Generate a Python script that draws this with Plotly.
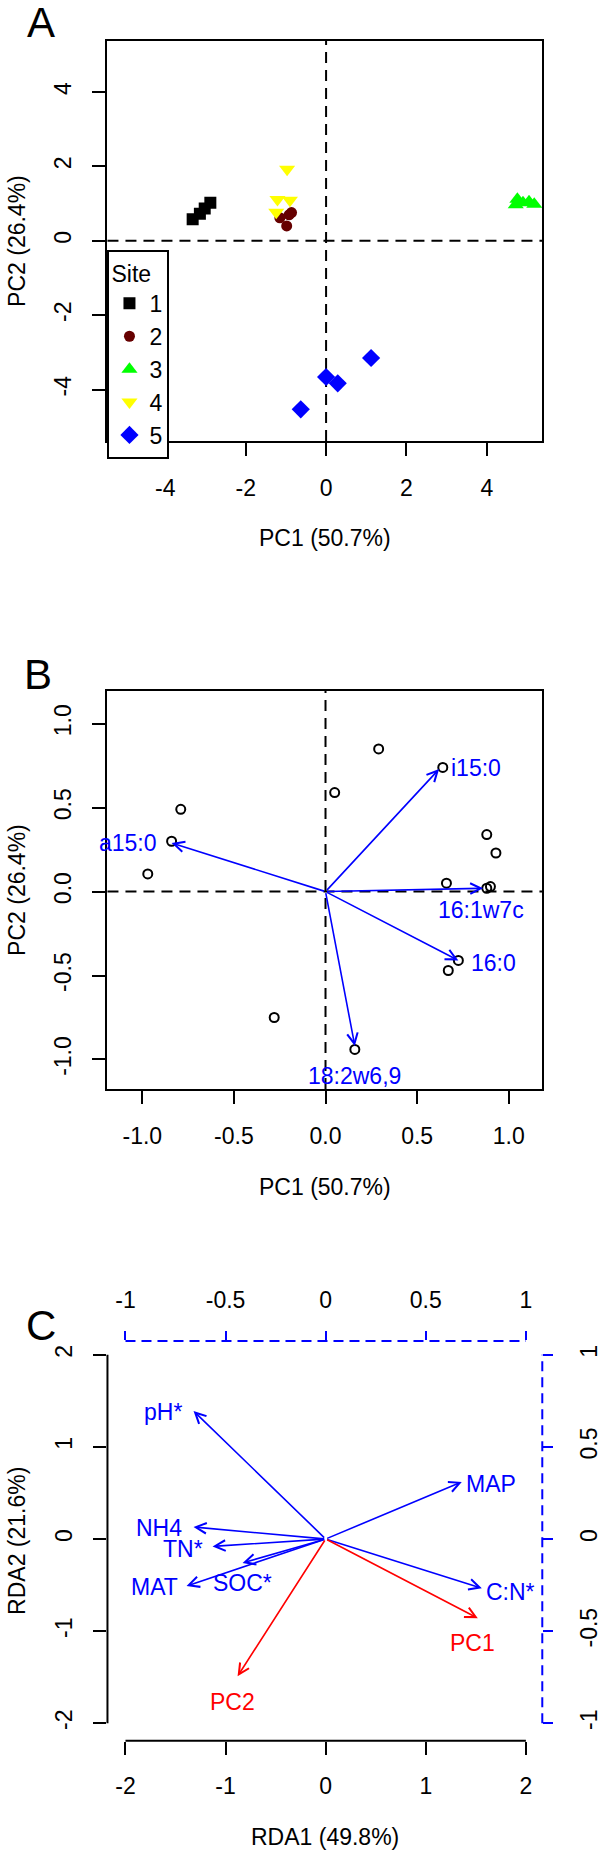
import plotly.graph_objects as go

# ---------------- Data ----------------
# Panel A: PCA scores by site
site_names = ["1", "2", "3", "4", "5"]
site_colors = ["#000000", "#660000", "#00ff00", "#ffff00", "#0000ff"]
site_symbols = ["square", "circle", "triangle-up", "triangle-down", "diamond"]
site_sizes = [12, 11, 14, 14, 14]
site1_x = [-3.32, -3.14, -3.02, -2.88]
site1_y = [0.58, 0.73, 0.87, 1.02]
site2_x = [-0.86, -0.98, -1.15, -0.92]
site2_y = [0.76, 0.40, 0.62, 0.70]
site3_x = [4.76, 4.90, 5.05, 5.18, 4.72]
site3_y = [1.12, 1.02, 1.05, 0.98, 0.97]
site4_x = [-0.97, -1.21, -0.90, -1.24]
site4_y = [1.92, 1.11, 1.09, 0.77]
site5_x = [1.12, 0.00, 0.29, -0.63]
site5_y = [-3.15, -3.66, -3.83, -4.53]

# Panel B: loadings plot points
b_pts_x = [0.29, 0.64, 0.05, -0.79, -0.84, -0.97, 0.88, 0.93, 0.66, 0.88, 0.90, 0.725, 0.67, -0.28, 0.16]
b_pts_y = [0.85, 0.74, 0.59, 0.49, 0.30, 0.105, 0.34, 0.23, 0.05, 0.02, 0.03, -0.41, -0.47, -0.75, -0.94]
b_vec_names = ["a15:0", "i15:0", "16:1w7c", "16:0", "18:2w6,9"]
b_vec_x = [-0.84, 0.62, 0.86, 0.725, 0.16]
b_vec_y = [0.29, 0.73, 0.02, -0.41, -0.92]
b_lab_x = [-0.91, 0.675, 0.85, 0.785, 0.157]
b_lab_y = [0.29, 0.735, -0.108, -0.426, -1.097]
b_lab_anchor = ["right", "left", "center", "left", "center"]

# Panel C: RDA biplot
c_env_names = ["pH*", "MAP", "NH4", "TN*", "SOC*", "MAT", "C:N*"]
c_env_x = [-1.32, 1.36, -1.32, -1.13, -0.83, -1.39, 1.56]
c_env_y = [1.39, 0.62, 0.13, -0.08, -0.26, -0.51, -0.535]
c_env_lab_x = [-1.42, 1.38, -1.42, -1.21, -0.832, -1.46, 1.585]
c_env_lab_y = [1.38, 0.60, 0.115, -0.11, -0.48, -0.524, -0.57]
c_env_anchor = ["right", "left", "right", "right", "center", "right", "left"]
c_resp_names = ["PC1", "PC2"]
c_resp_x = [1.52, -0.88]
c_resp_y = [-0.86, -1.49]
c_resp_lab_x = [1.47, -0.93]
c_resp_lab_y = [-1.13, -1.765]

# Tick values / labels
a_ticks = [-4, -2, 0, 2, 4]
a_ticktext = ["-4", "-2", "0", "2", "4"]
b_ticks = [-1.0, -0.5, 0.0, 0.5, 1.0]
b_ticktext = ["-1.0", "-0.5", "0.0", "0.5", "1.0"]
c_ticks = [-2, -1, 0, 1, 2]
c_ticktext = ["-2", "-1", "0", "1", "2"]
c2_ticks = [-1, -0.5, 0, 0.5, 1]
c2_ticktext = ["-1", "-0.5", "0", "0.5", "1"]

# ---------------- Layout constants ----------------
W, H = 602, 1855
FONT = "Liberation Sans, Arial, sans-serif"
FS = 23
BLUE = "#0000ff"
RED = "#ff0000"


def px_x(p):
    return p / W


def px_y(p):
    return 1 - p / H


x_dom = [px_x(108), px_x(545)]
yA = [px_y(441), px_y(41)]
yB = [px_y(1089), px_y(691)]
yC = [px_y(1740.7), px_y(1341)]

fig = go.Figure()

site_x = [site1_x, site2_x, site3_x, site4_x, site5_x]
site_y = [site1_y, site2_y, site3_y, site4_y, site5_y]
for i in range(5):
    fig.add_trace(go.Scatter(
        x=site_x[i], y=site_y[i], mode="markers", name=site_names[i],
        marker=dict(color=site_colors[i], symbol=site_symbols[i], size=site_sizes[i],
                    line=dict(width=0)),
        xaxis="x", yaxis="y", showlegend=True))

fig.add_trace(go.Scatter(
    x=b_pts_x, y=b_pts_y, mode="markers", showlegend=False,
    marker=dict(symbol="circle-open", color="black", size=9, line=dict(width=2)),
    xaxis="x2", yaxis="y2"))

# invisible traces so the panel C axes are built
fig.add_trace(go.Scatter(x=[None], y=[None], mode="markers", showlegend=False,
                         xaxis="x4", yaxis="y4", hoverinfo="skip"))
fig.add_trace(go.Scatter(x=[None], y=[None], mode="markers", showlegend=False,
                         xaxis="x3", yaxis="y3", hoverinfo="skip"))

common = dict(showgrid=False, zeroline=False, ticks="outside", ticklen=13, tickwidth=2,
              tickcolor="black", tickfont=dict(family=FONT, size=FS, color="black"),
              ticklabelstandoff=12)
box = dict(showline=True, linecolor="black", linewidth=2, mirror=True)

fig.update_layout(
    width=W, height=H,
    margin=dict(l=0, r=0, t=0, b=0),
    paper_bgcolor="white", plot_bgcolor="white",
    font=dict(family=FONT, size=FS, color="black"),
    xaxis=dict(domain=x_dom, anchor="y", range=[-5.44, 5.38], tickvals=a_ticks,
               ticktext=a_ticktext, **common, **box),
    yaxis=dict(domain=yA, anchor="x", range=[-5.38, 5.37], tickvals=a_ticks,
               ticktext=a_ticktext, tickangle=-90, **common, **box),
    xaxis2=dict(domain=x_dom, anchor="y2", range=[-1.19, 1.183], tickvals=b_ticks,
                ticktext=b_ticktext, **common, **box),
    yaxis2=dict(domain=yB, anchor="x2", range=[-1.176, 1.195], tickvals=b_ticks,
                ticktext=b_ticktext, tickangle=-90, **common, **box),
    xaxis3=dict(domain=x_dom, anchor="y3", range=[-2.18, 2.164], tickvals=c_ticks,
                ticktext=c_ticktext, showline=False, **common),
    yaxis3=dict(domain=yC, anchor="x3", range=[-2.19, 2.15], tickvals=c_ticks,
                ticktext=c_ticktext, tickangle=-90, showline=False, **common),
    xaxis4=dict(overlaying="x3", side="top", anchor="y3", range=[-1.09, 1.082],
                tickvals=c2_ticks, ticktext=c2_ticktext, showgrid=False, zeroline=False,
                ticks="outside", ticklen=9, tickwidth=2, tickcolor=BLUE, showline=False,
                tickfont=dict(family=FONT, size=FS, color="black"), ticklabelstandoff=14),
    yaxis4=dict(overlaying="y3", side="right", anchor="x3", range=[-1.095, 1.075],
                tickvals=c2_ticks, ticktext=c2_ticktext, showgrid=False, zeroline=False,
                ticks="outside", ticklen=10, tickwidth=2, tickcolor=BLUE, showline=False,
                tickangle=-90,
                tickfont=dict(family=FONT, size=FS, color="black"), ticklabelstandoff=16),
    legend=dict(x=px_x(108), y=px_y(250), xanchor="left", yanchor="top",
                bgcolor="white", bordercolor="black", borderwidth=2,
                font=dict(family=FONT, size=FS, color="black"),
                title=dict(text="Site", font=dict(family=FONT, size=FS, color="black")),
                itemwidth=30, tracegroupgap=0, itemsizing="trace"),
)

shapes = []
dash_k = "11px,7px"
for xr, yr in (("x", "y"), ("x2", "y2")):
    shapes.append(dict(type="line", xref=xr, yref=yr + " domain", x0=0, x1=0, y0=0, y1=1,
                       line=dict(color="black", width=2, dash=dash_k), layer="below"))
    shapes.append(dict(type="line", xref=xr + " domain", yref=yr, x0=0, x1=1, y0=0, y1=0,
                       line=dict(color="black", width=2, dash=dash_k), layer="below"))
# panel C axis lines
shapes.append(dict(type="line", xref="x3", yref="y3 domain", x0=c_ticks[0], x1=c_ticks[-1],
                   y0=0, y1=0, line=dict(color="black", width=2)))
shapes.append(dict(type="line", xref="x3 domain", yref="y3", x0=0, x1=0,
                   y0=c_ticks[0], y1=c_ticks[-1], line=dict(color="black", width=2)))
shapes.append(dict(type="line", xref="x4", yref="y3 domain", x0=c2_ticks[0], x1=c2_ticks[-1],
                   y0=1, y1=1, line=dict(color=BLUE, width=2, dash="10px,6px")))
shapes.append(dict(type="line", xref="x3 domain", yref="y4", x0=1, x1=1,
                   y0=c2_ticks[0], y1=c2_ticks[-1], line=dict(color=BLUE, width=2, dash="10px,6px")))
fig.update_layout(shapes=shapes)

ann = []


def arrow(xr, yr, x, y, color):
    return dict(xref=xr, yref=yr, axref=xr, ayref=yr, x=x, y=y, ax=0, ay=0, text="",
                showarrow=True, arrowhead=5, arrowsize=1.3, arrowwidth=1.6,
                arrowcolor=color, standoff=0, startstandoff=0)


def label(xr, yr, x, y, text, color, anchor="center", size=FS):
    return dict(xref=xr, yref=yr, x=x, y=y, text=text, showarrow=False,
                xanchor=anchor, yanchor="middle",
                font=dict(family=FONT, size=size, color=color))


for i in range(len(b_vec_names)):
    ann.append(arrow("x2", "y2", b_vec_x[i], b_vec_y[i], BLUE))
    ann.append(label("x2", "y2", b_lab_x[i], b_lab_y[i], b_vec_names[i], BLUE, b_lab_anchor[i]))
for i in range(len(c_env_names)):
    ann.append(arrow("x3", "y3", c_env_x[i], c_env_y[i], BLUE))
    ann.append(label("x3", "y3", c_env_lab_x[i], c_env_lab_y[i], c_env_names[i], BLUE, c_env_anchor[i]))
for i in range(len(c_resp_names)):
    ann.append(arrow("x3", "y3", c_resp_x[i], c_resp_y[i], RED))
    ann.append(label("x3", "y3", c_resp_lab_x[i], c_resp_lab_y[i], c_resp_names[i], RED))

# panel letters and axis titles
ann.append(label("paper", "paper", px_x(41), px_y(22), "A", "black", size=42))
ann.append(label("paper", "paper", px_x(38), px_y(674), "B", "black", size=42))
ann.append(label("paper", "paper", px_x(41), px_y(1325), "C", "black", size=42))
ann.append(label("paper", "paper", px_x(326.5), px_y(538), "PC1 (50.7%)", "black"))
ann.append(label("paper", "paper", px_x(326.5), px_y(1186.7), "PC1 (50.7%)", "black"))
ann.append(label("paper", "paper", px_x(326.5), px_y(1836.7), "RDA1 (49.8%)", "black"))
for yc, t in ((241, "PC2 (26.4%)"), (890, "PC2 (26.4%)"), (1541, "RDA2 (21.6%)")):
    a = label("paper", "paper", px_x(17), px_y(yc), t, "black")
    a["textangle"] = -90
    ann.append(a)

fig.update_layout(annotations=ann)

fig.write_html("out.html", config={"displayModeBar": False},
               post_script="document.body.style.margin='0';document.body.style.overflow='hidden';")
